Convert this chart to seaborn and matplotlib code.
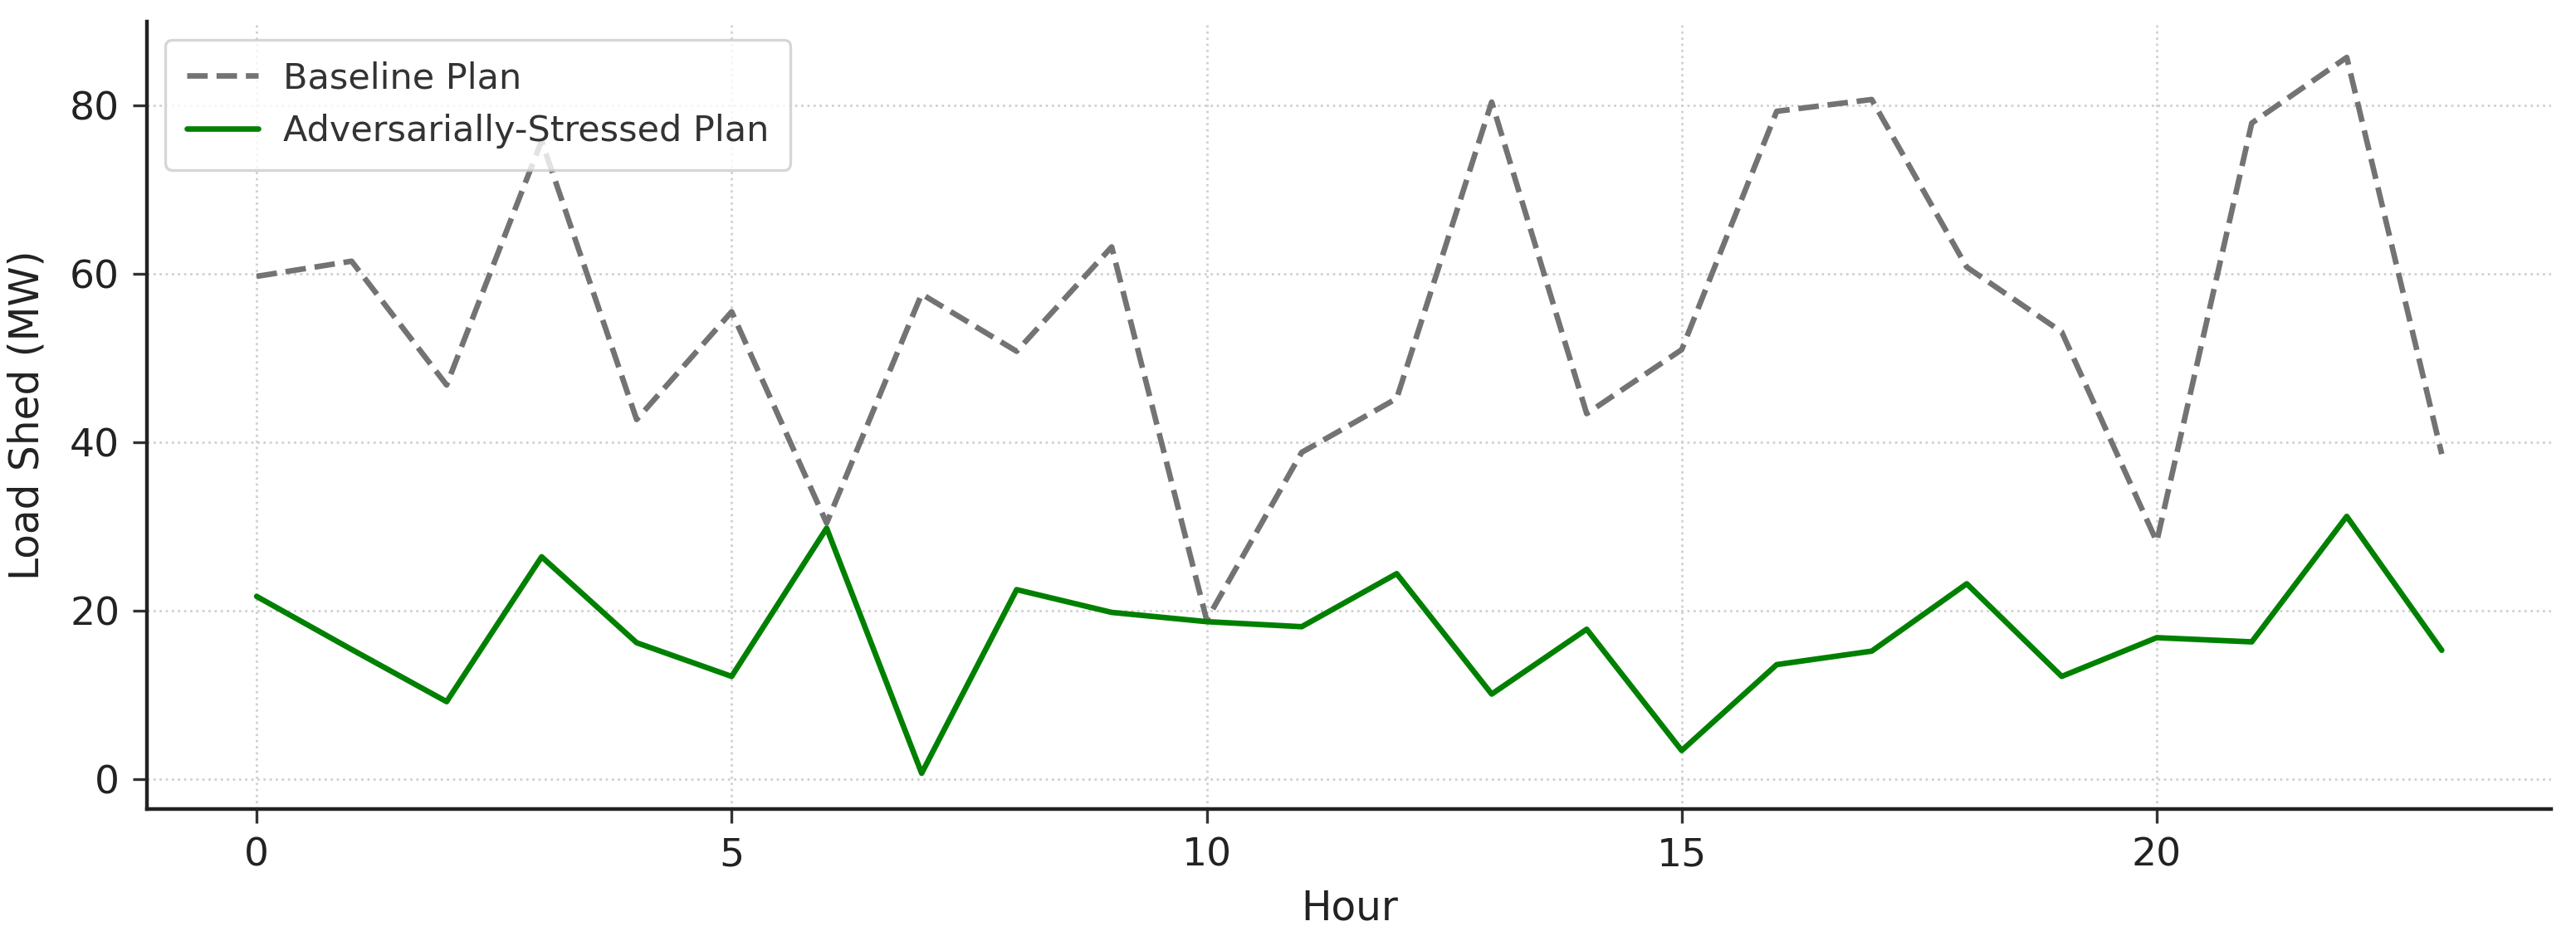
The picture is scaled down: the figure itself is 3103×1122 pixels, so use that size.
import matplotlib
matplotlib.use("Agg")
import matplotlib.pyplot as plt
import seaborn as sns
import pandas as pd

hours = list(range(24))
baseline = [59.7, 61.5, 46.8, 75.8, 42.7, 55.5, 30.4, 57.6, 50.8, 63.2, 18.9, 38.8,
            45.2, 80.4, 43.4, 51.0, 79.3, 80.7, 60.8, 53.1, 28.2, 77.9, 85.7, 38.6]
stressed = [21.7, 15.4, 9.2, 26.4, 16.2, 12.2, 29.8, 0.7, 22.5, 19.8, 18.7, 18.1,
            24.4, 10.1, 17.8, 3.4, 13.6, 15.2, 23.2, 12.2, 16.8, 16.3, 31.2, 15.3]
series_names = ["Baseline Plan", "Adversarially-Stressed Plan"]
x_label = "Hour"
y_label = "Load Shed (MW)"

df = pd.DataFrame({"Hour": hours, "baseline": baseline, "stressed": stressed})

sns.set_style("ticks")
plt.rcParams['font.family'] = ['DejaVu Sans']

fig = plt.figure(figsize=(3103 / 200, 1122 / 200), dpi=200)
ax = fig.add_axes([0.0572, 0.131, 0.9331, 0.8458])

sns.lineplot(data=df, x="Hour", y="baseline", ax=ax, color="#737373",
             linestyle="--", linewidth=2.4, label=series_names[0])
sns.lineplot(data=df, x="Hour", y="stressed", ax=ax, color="green",
             linewidth=2.4, label=series_names[1])

ax.grid(True, linestyle=":", linewidth=1.0, color="#cccccc", alpha=0.9)
ax.set_axisbelow(True)
sns.despine(ax=ax)
for s in ["left", "bottom"]:
    ax.spines[s].set_linewidth(1.6)
    ax.spines[s].set_color("#222222")
ax.tick_params(axis="both", labelsize=17, length=6, width=1.2, color="#333333",
               labelcolor="#222222", pad=6)
ax.set_xlabel(x_label, fontsize=17.5, color="#222222", labelpad=6)
ax.set_ylabel(y_label, fontsize=17.5, color="#222222", labelpad=10)

leg = ax.legend(loc="upper left", fontsize=15.5, frameon=True, fancybox=True,
                borderpad=0.6, handlelength=2.0, handletextpad=0.7)
leg.get_frame().set_edgecolor("#cccccc")
leg.get_frame().set_linewidth(1.2)
for t in leg.get_texts():
    t.set_color("#333333")

fig.savefig("out.png", dpi=200)
